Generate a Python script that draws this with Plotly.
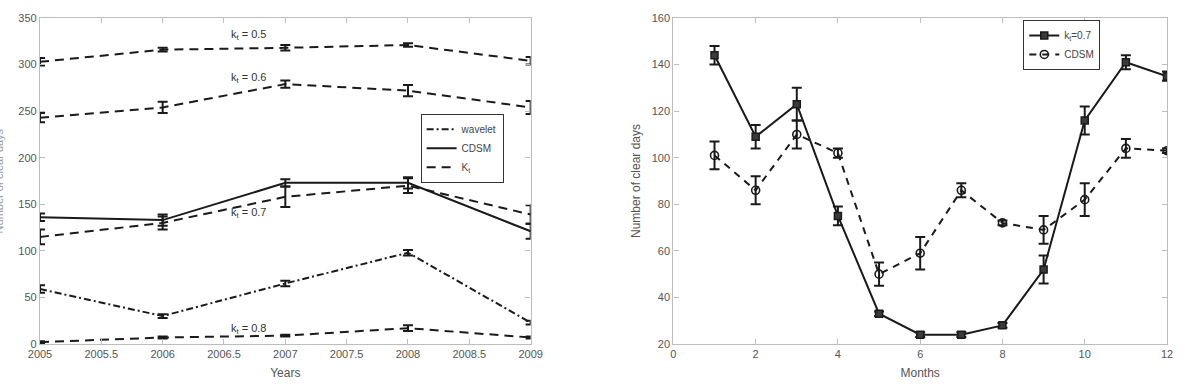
import plotly.graph_objects as go

# ---- Left panel data (Years) ----
years = [2005, 2006, 2007, 2008, 2009]
kt05 = [303, 316, 318, 321, 304]
kt05_err = [4, 2, 3, 2, 4]
kt06 = [243, 254, 279, 272, 254]
kt06_err = [5, 6, 4, 6, 7]
cdsm_y = [136, 133, 173, 173, 121]
cdsm_y_err = [4, 6, 4, 6, 8]
kt07 = [115, 130, 158, 170, 139]
kt07_err = [8, 7, 11, 8, 10]
wavelet = [59, 30, 65, 98, 23]
wavelet_err = [4, 2, 3, 3, 2]
kt08 = [2, 7, 9, 17, 7]
kt08_err = [1, 1, 1, 3, 1]

kt_labels = ["k<sub>t</sub> = 0.5", "k<sub>t</sub> = 0.6", "k<sub>t</sub> = 0.7", "k<sub>t</sub> = 0.8"]
kt_label_y = [332, 286, 141, 16]
kt_label_x = 2006.7

# ---- Right panel data (Months) ----
months = [1, 2, 3, 4, 5, 6, 7, 8, 9, 10, 11, 12]
m_kt07 = [144, 109, 123, 75, 33, 24, 24, 28, 52, 116, 141, 135]
m_kt07_err = [4, 5, 7, 4, 1, 1, 1, 1, 6, 6, 3, 2]
m_cdsm = [101, 86, 110, 102, 50, 59, 86, 72, 69, 82, 104, 103]
m_cdsm_err = [6, 6, 6, 2, 5, 7, 3, 1, 6, 7, 4, 1]

BLACK = "#1a1a1a"
GRID = "#bdbdbd"
TXT = "#555555"

def eb(arr):
    return dict(type="data", array=arr, visible=True, color=BLACK, thickness=2, width=5)

fig = go.Figure()

dash_long = "9px,6px"
# Left panel traces
fig.add_trace(go.Scatter(x=years, y=wavelet, error_y=eb(wavelet_err), mode="lines",
                         line=dict(color=BLACK, width=2, dash="7px,3px,2px,3px"),
                         name="wavelet", legend="legend", xaxis="x", yaxis="y"))
fig.add_trace(go.Scatter(x=years, y=cdsm_y, error_y=eb(cdsm_y_err), mode="lines",
                         line=dict(color=BLACK, width=2),
                         name="CDSM", legend="legend", xaxis="x", yaxis="y"))
first = True
for vals, errs in [(kt07, kt07_err), (kt05, kt05_err), (kt06, kt06_err), (kt08, kt08_err)]:
    fig.add_trace(go.Scatter(x=years, y=vals, error_y=eb(errs), mode="lines",
                             line=dict(color=BLACK, width=2, dash=dash_long),
                             name="K<sub>t</sub>", showlegend=first, legend="legend",
                             xaxis="x", yaxis="y"))
    first = False

# Right panel traces
fig.add_trace(go.Scatter(x=months, y=m_kt07, error_y=eb(m_kt07_err), mode="lines+markers",
                         line=dict(color=BLACK, width=2),
                         marker=dict(symbol="square", size=7, color="#3a3a3a",
                                     line=dict(color=BLACK, width=1.5)),
                         name="k<sub>t</sub>=0.7", legend="legend2", xaxis="x2", yaxis="y2"))
fig.add_trace(go.Scatter(x=months, y=m_cdsm, error_y=eb(m_cdsm_err), mode="lines+markers",
                         line=dict(color=BLACK, width=2, dash="7px,6px"),
                         marker=dict(symbol="circle-open", size=8, color=BLACK,
                                     line=dict(color=BLACK, width=1.6)),
                         name="CDSM", legend="legend2", xaxis="x2", yaxis="y2"))

annotations = []
for lab, yy in zip(kt_labels, kt_label_y):
    annotations.append(dict(x=kt_label_x, y=yy, xref="x", yref="y", text=lab,
                            showarrow=False, font=dict(size=11, color="#333333")))
annotations.append(dict(x=-0.036, y=0.5, xref="paper", yref="paper",
                        xanchor="center", yanchor="middle",
                        text="Number of clear days", textangle=-90, showarrow=False,
                        font=dict(size=11, color="#999999")))

axis_common = dict(showline=True, linecolor=GRID, linewidth=1.3, mirror="ticks",
                   ticks="inside", ticklen=5, tickcolor=GRID, showgrid=False,
                   zeroline=False, tickfont=dict(size=11, color=TXT),
                   title_font=dict(size=12, color=TXT))

L = 40
W = 1191 - 40 - 14
fig.update_layout(
    width=1191, height=390,
    margin=dict(l=L, r=14, t=15, b=45),
    plot_bgcolor="white", paper_bgcolor="white",
    font=dict(family="Liberation Sans, Arial, sans-serif", color=TXT),
    xaxis=dict(domain=[0, (535 - L) / W], range=[2005, 2009], tickmode="array",
               tickvals=[2005, 2005.5, 2006, 2006.5, 2007, 2007.5, 2008, 2008.5, 2009],
               ticktext=["2005", "2005.5", "2006", "2006.5", "2007", "2007.5", "2008", "2008.5", "2009"],
               title=dict(text="Years", standoff=9), anchor="y", **axis_common),
    yaxis=dict(domain=[0, 1], range=[0, 350], dtick=50, anchor="x", **axis_common),
    xaxis2=dict(domain=[(679 - L) / W, 1], range=[0, 12], dtick=2,
                title=dict(text="Months", standoff=9), anchor="y2", **axis_common),
    yaxis2=dict(domain=[0, 1], range=[20, 160], dtick=20, anchor="x2",
                title=dict(text="Number of clear days", standoff=8), **axis_common),
    legend=dict(x=(424 - L) / W, y=1 - (112 - 15) / 330, xanchor="left", yanchor="top",
                bordercolor="#333333", borderwidth=1, bgcolor="white",
                font=dict(size=10, color="#444444"), tracegroupgap=0,
                itemwidth=30, traceorder="normal"),
    legend2=dict(x=(1032 - L) / W, y=1 - (17 - 15) / 330, xanchor="left", yanchor="top",
                 bordercolor="#333333", borderwidth=1, bgcolor="white",
                 font=dict(size=10, color="#444444"), itemwidth=30),
    annotations=annotations,
)

fig.write_html("out.html")
